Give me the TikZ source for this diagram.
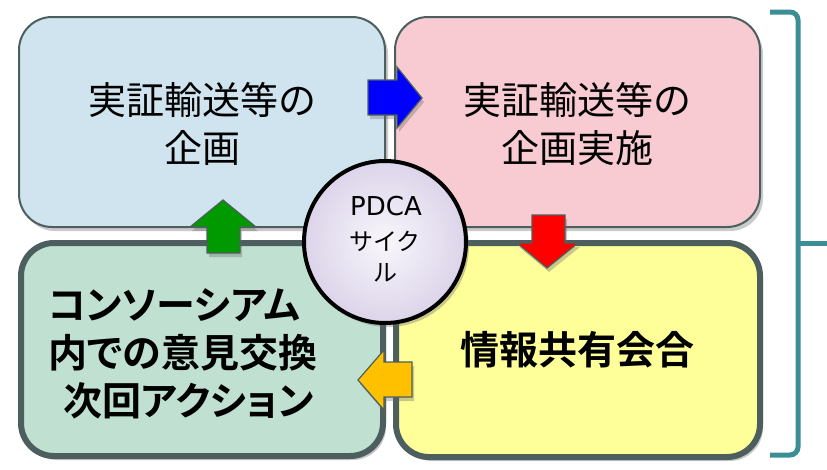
\documentclass[tikz,border=0pt]{standalone}
\usepackage{fontspec}
\setmainfont{Noto Sans CJK JP}
\newfontfamily\jpfont{Noto Sans CJK JP}
\newfontfamily\jpbold[RawFeature=+palt]{Noto Sans CJK JP Bold}
\newfontfamily\latinfont{DejaVu Sans}
\usetikzlibrary{shadows}
\definecolor{bordergray}{HTML}{4D5E5E}
\definecolor{boxblue}{HTML}{D0E4EF}
\definecolor{boxpink}{HTML}{F8CBD2}
\definecolor{boxmint}{HTML}{C0E1D1}
\definecolor{boxyellow}{HTML}{FFFF9A}
\definecolor{bracketteal}{HTML}{3B8F94}
\definecolor{arrowyellow}{HTML}{FFC000}
\definecolor{arrowgreen}{HTML}{009900}
\definecolor{circlelav}{HTML}{DCD4EA}
\begin{document}
\begin{tikzpicture}[x=1pt,y=-1pt,
  boxshadow/.style={drop shadow={shadow xshift=3pt,shadow yshift=-4pt,opacity=0.35,fill=black!60}},
  topbox/.style={draw=bordergray,line width=2pt,rounded corners=33pt,boxshadow},
  botbox/.style={draw=bordergray,line width=6pt,rounded corners=33pt,boxshadow},
  blockarrow/.style={draw=bordergray,line width=1.2pt,line join=miter,drop shadow={shadow xshift=2pt,shadow yshift=-4pt,opacity=0.35,fill=black!60}},
  lbl/.style={align=center,font=\jpfont\fontsize{38}{48}\selectfont,inner sep=0pt},
  blbl/.style={align=center,font=\jpbold\fontsize{39}{48}\selectfont,inner sep=0pt}]
\useasboundingbox (0,0) rectangle (827,469);

% boxes
\draw[topbox,fill=boxblue] (19,17) rectangle (385,227);
\draw[topbox,fill=boxpink] (395,17) rectangle (760,227);
\draw[botbox,fill=boxmint] (21,243) rectangle (383,456);
\draw[botbox,fill=boxyellow] (396,243) rectangle (760,457);

\node[lbl] (tl) at (202,124) {実証輸送等の\\企画};
\node[lbl] (tr) at (577,124) {実証輸送等の\\企画実施};
\node[blbl,align=left,anchor=west] (bl) at (48,354) {コンソーシアム\\内での意見交換\\\hspace{15pt}次回アクション};
\node[blbl] (br) at (577,350) {情報共有会合};

% arrows
\path[blockarrow,fill=blue] (368,80) -- (397,80) -- (397,67) -- (422,98) -- (397,128) -- (397,115) -- (368,115) -- cycle;
\path[blockarrow,fill=red] (532,215) -- (565,215) -- (565,243) -- (578,243) -- (547,268) -- (517,243) -- (532,243) -- cycle;
\path[blockarrow,fill=arrowgreen] (207,253) -- (207,227) -- (190,227) -- (223,200) -- (256,227) -- (240,227) -- (240,253) -- cycle;
\path[blockarrow,fill=arrowyellow] (412,362) -- (384,362) -- (384,350) -- (358,380) -- (384,410) -- (384,397) -- (412,397) -- cycle;

% circle
\node[circle,draw=black,line width=4pt,minimum size=162pt,inner color=white!80!circlelav,outer color=circlelav,
  drop shadow={shadow xshift=3pt,shadow yshift=-4pt,opacity=0.35,fill=black!60}] (pdca) at (385,242) {};
\node[font=\latinfont\fontsize{26}{30}\selectfont,inner sep=0pt] (pdcat) at (386,206) {PDCA};
\node[align=center,font=\jpfont\fontsize{24}{31}\selectfont,inner sep=0pt] (pdcak) at (385,257) {サイク\\ル};

% bracket
\coordinate (bt) at (770,12);
\coordinate (bb) at (770,455);
\coordinate (bm) at (827,243);
\draw[bracketteal,line width=5pt,rounded corners=8pt] (bt) -- (798,12) -- (798,455) -- (bb);
\draw[bracketteal,line width=5pt] (798,243) -- (bm);
\end{tikzpicture}
\end{document}
